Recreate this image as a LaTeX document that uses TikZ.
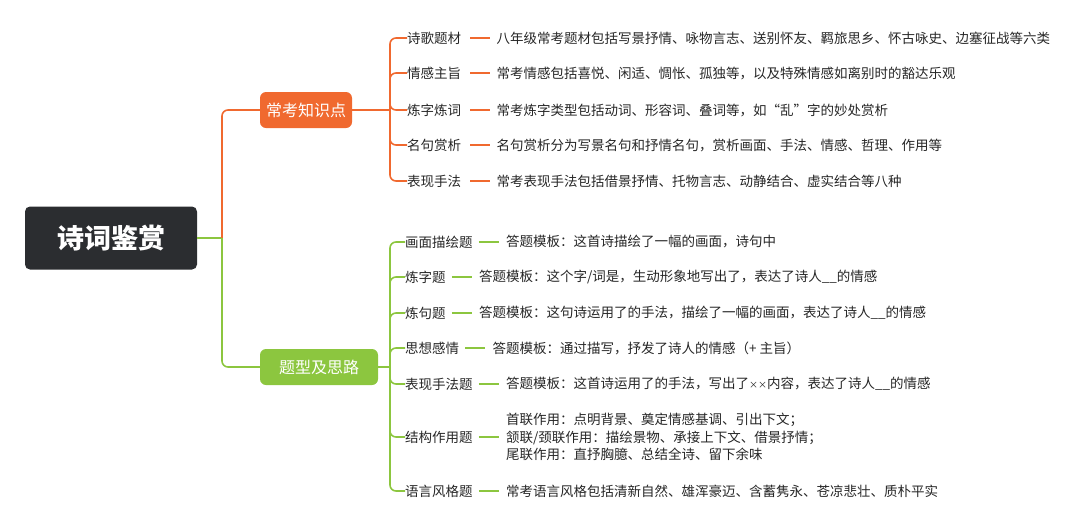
\documentclass[tikz,border=0pt]{standalone}
\usepackage{fontspec}
\setmainfont{Noto Sans CJK SC}
\begin{document}
\begin{tikzpicture}[x=1pt,y=-1pt,
  lab/.style={anchor=west,inner sep=0pt,font=\fontsize{13.5}{17.5}\selectfont,text=black!85},
  br/.style={line width=1.6pt,rounded corners=6pt},
  oc/.style={br,draw=orange1},gc/.style={br,draw=green1}]
\definecolor{orange1}{HTML}{F0692F}
\definecolor{green1}{HTML}{8CC63F}
\definecolor{dark1}{HTML}{2B2D30}
\useasboundingbox (0,0) rectangle (1080,531);
\node[fill=dark1,rounded corners=5pt,minimum width=172pt,minimum height=63pt,text=white,font=\fontsize{27}{30}\selectfont\bfseries] (root) at (111,238) {诗词鉴赏};
\node[fill=orange1,rounded corners=6pt,minimum width=92pt,minimum height=36pt,text=white,font=\fontsize{16}{18}\selectfont] (k) at (306,110) {常考知识点};
\node[fill=green1,rounded corners=6pt,minimum width=118pt,minimum height=36pt,text=white,font=\fontsize{16}{18}\selectfont] (t) at (319,367) {题型及思路};
\coordinate (rj) at (222,238);
\coordinate (kj) at (390,110);
\coordinate (tj) at (390,367);
\draw[green1,line width=1.6pt] (root.east) -- (rj);
\draw[oc] (rj) |- (k.west);
\draw[gc] (rj) |- (t.west);
\draw[orange1,line width=1.6pt] (k.east) -- (kj);
\draw[green1,line width=1.6pt] (t.east) -- (tj);
% orange children
\foreach \n/\y/\a/\b in {
 o1/38/诗歌题材/八年级常考题材包括写景抒情、咏物言志、送别怀友、羁旅思乡、怀古咏史、边塞征战等六类,
 o2/73/情感主旨/常考情感包括喜悦、闲适、惆怅、孤独等，以及特殊情感如离别时的豁达乐观,
 o3/110/炼字炼词/常考炼字类型包括动词、形容词、叠词等，如“乱”字的妙处赏析,
 o4/145/名句赏析/名句赏析分为写景名句和抒情名句，赏析画面、手法、情感、哲理、作用等,
 o5/181/表现手法/常考表现手法包括借景抒情、托物言志、动静结合、虚实结合等八种}{
 \node[lab] (\n) at (407,\y) {\a};
 \coordinate (\n d1) at ([xshift=9pt]\n.east);
 \coordinate (\n d2) at ([xshift=29pt]\n.east);
 \node[lab] (\n t) at ([xshift=35pt]\n.east) {\b};
 \draw[oc] (kj) |- (\n.west);
 \draw[orange1,line width=1.6pt] (\n d1) -- (\n d2);
}
% green children
\foreach \n/\y/\a/\b in {
 g1/242/画面描绘题/{答题模板：这首诗描绘了一幅的画面，诗句中},
 g2/277/炼字题/{答题模板：这个字/词是，生动形象地写出了，表达了诗人\_\_的情感},
 g3/313/炼句题/{答题模板：这句诗运用了的手法，描绘了一幅的画面，表达了诗人\_\_的情感},
 g4/348/思想感情/{答题模板：通过描写，抒发了诗人的情感（+ 主旨）},
 g5/384/表现手法题/{答题模板：这首诗运用了的手法，写出了{\fontsize{9}{10}\selectfont ××}内容，表达了诗人\_\_的情感},
 g6/437/结构作用题/{首联作用：点明背景、奠定情感基调、引出下文；\\颔联/颈联作用：描绘景物、承接上下文、借景抒情；\\尾联作用：直抒胸臆、总结全诗、留下余味},
 g7/491/语言风格题/{常考语言风格包括清新自然、雄浑豪迈、含蓄隽永、苍凉悲壮、质朴平实}}{
 \node[lab] (\n) at (405,\y) {\a};
 \coordinate (\n d1) at ([xshift=6pt]\n.east);
 \coordinate (\n d2) at ([xshift=26pt]\n.east);
 \node[lab,align=left] (\n t) at ([xshift=33pt]\n.east) {\b};
 \draw[gc] (tj) |- (\n.west);
 \draw[green1,line width=1.6pt] (\n d1) -- (\n d2);
}
\end{tikzpicture}
\end{document}
